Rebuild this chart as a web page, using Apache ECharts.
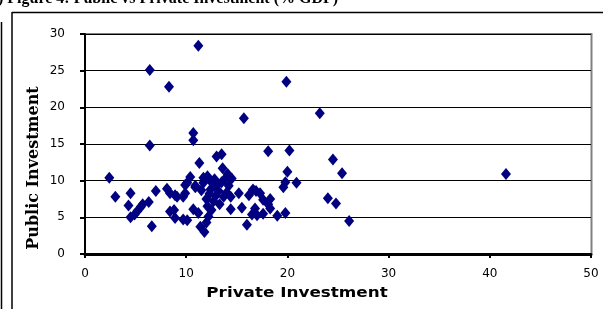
<!DOCTYPE html>
<html>
<head>
<meta charset="utf-8">
<script src="https://cdn.jsdelivr.net/npm/echarts@6/dist/echarts.min.js"></script>
<style>
  html, body { margin: 0; padding: 0; background: #fff; overflow: hidden; }
  .wrap { position: relative; width: 603px; height: 309px; }
  #chart { width: 603px; height: 309px; }
  .txt { position: absolute; color: #000; white-space: nowrap; pointer-events: none; font-weight: bold; }
  .title { left: -2px; top: -10px; font: bold 16px/16px "Liberation Serif"; }
  .yname { left: -67px; top: 158px; width: 200px; height: 20px; line-height: 20px; text-align: center;
           font-family: "DejaVu Serif"; font-size: 16px; transform: rotate(-90deg); }
  .xname { left: 297px; top: 292px; font-family: "DejaVu Sans"; font-size: 14px; line-height: 16px;
           transform: translate(-50%, -50%) scaleX(1.2); }
</style>
</head>
<body>
<div class="wrap">
  <div id="chart"></div>
  <div class="txt title">) Figure 4: Public vs Private Investment (% GDP)</div>
  <div class="txt yname">Public Investment</div>
  <div class="txt xname">Private Investment</div>
</div>
<script>
// 私人投资 (x) 与 公共投资 (y)，% GDP
const privateInv = [
  2.4, 3.0, 4.5, 4.3, 4.5, 4.9, 5.2, 5.5, 5.7, 6.3,
  6.4, 6.6, 6.4, 7.0, 8.1, 8.3, 8.4, 8.9, 9.7, 8.4,
  8.9, 9.7, 9.9, 10.4, 10.9, 10.7, 11.2, 11.3, 11.7, 11.4,
  11.8, 11.2, 10.7, 10.7, 13.0, 13.5, 13.6, 14.1, 14.5, 15.2,
  14.4, 15.5, 16.0, 15.7, 16.6, 17.3, 17.6, 18.1, 18.3, 17.6,
  17.0, 16.5, 16.8, 18.1, 19.0, 19.8, 19.6, 19.8, 20.0, 20.9,
  20.2, 19.9, 23.2, 24.5, 25.4, 24.0, 24.8, 26.1, 41.6, 12.1,
  11.7, 12.4, 13.0, 13.7, 12.7, 12.1, 12.2, 12.0, 10.1, 10.9,
  9.1, 9.9, 8.8, 10.1, 12.8, 12.5, 13.2, 12.3, 13.5, 12.9,
  14.0, 14.4, 13.3, 12.5, 14.2, 11.5, 12.0, 13.8, 16.2, 16.9,
  18.3
]
const publicInv = [
  10.4, 7.8, 8.3, 6.6, 5.0, 5.4, 5.9, 6.4, 6.8, 7.1,
  14.8, 3.8, 25.1, 8.6, 8.9, 22.8, 8.3, 8.0, 7.8, 5.8,
  4.9, 4.7, 9.4, 10.5, 9.1, 6.1, 5.6, 12.4, 10.4, 3.7,
  3.0, 28.4, 16.5, 15.5, 13.3, 13.6, 11.7, 10.9, 10.3, 8.3,
  6.1, 6.3, 4.0, 18.5, 8.8, 8.3, 7.4, 6.8, 6.2, 5.5,
  5.3, 5.4, 6.2, 14.0, 5.2, 5.6, 9.1, 9.8, 11.2, 9.7,
  14.1, 23.5, 19.2, 12.9, 11.0, 7.6, 6.9, 4.5, 10.9, 10.6,
  9.7, 8.8, 9.3, 7.8, 7.2, 6.5, 5.1, 4.3, 9.7, 9.3,
  7.8, 8.3, 6.0, 4.6, 10.2, 9.8, 8.6, 8.2, 9.8, 7.9,
  8.4, 7.8, 6.8, 6.0, 9.3, 8.7, 7.5, 10.2, 8.0, 8.6,
  7.5
]
const xTicks = [0, 10, 20, 30, 40, 50]
const yTicks = [0, 5, 10, 15, 20, 25, 30]

const points = privateInv.map((v, i) => [v, publicInv[i]])

const chart = echarts.init(document.getElementById('chart'))

const option = {
  animation: false,
  grid: {
    left: 85,
    right: 12,
    top: 34,
    bottom: 55
  },
  xAxis: {
    type: 'value',
    min: xTicks[0],
    max: xTicks[xTicks.length - 1],
    interval: 10,
    axisLine: { show: true, lineStyle: { color: '#000', width: 3 } },
    axisTick: { show: true, length: 4, lineStyle: { color: '#000', width: 2 } },
    axisLabel: { margin: 14, color: '#000', fontFamily: 'DejaVu Sans', fontSize: 12 },
    splitLine: { show: false }
  },
  yAxis: {
    type: 'value',
    min: yTicks[0],
    max: yTicks[yTicks.length - 1],
    interval: 5,
    axisLine: { show: true, lineStyle: { color: '#000', width: 2 } },
    axisTick: { show: true, length: 5, lineStyle: { color: '#000', width: 2 } },
    axisLabel: { margin: 20, color: '#000', fontFamily: 'DejaVu Sans', fontSize: 12 },
    splitLine: { show: true, lineStyle: { color: '#000', width: 1 } }
  },
  graphic: [
    // 外框
    { type: 'line', shape: { x1: 12, y1: 12.5, x2: 603, y2: 12.5 }, style: { stroke: '#000', lineWidth: 1.5 } },
    { type: 'line', shape: { x1: 12, y1: 12, x2: 12, y2: 309 }, style: { stroke: '#000', lineWidth: 1.5 } },
    { type: 'line', shape: { x1: 1.5, y1: 22, x2: 1.5, y2: 309 }, style: { stroke: '#000', lineWidth: 1.5 } },
    // 绘图区灰色边框（上、右）
    { type: 'line', shape: { x1: 85, y1: 34, x2: 592, y2: 34 }, style: { stroke: '#808080', lineWidth: 2 } },
    { type: 'line', shape: { x1: 591.5, y1: 33, x2: 591.5, y2: 254 }, style: { stroke: '#808080', lineWidth: 2 } }
  ],
  series: [
    {
      type: 'scatter',
      data: points,
      symbol: 'diamond',
      symbolSize: [10, 12],
      itemStyle: { color: '#000080', opacity: 1 }
    }
  ]
}
chart.setOption(option)
window.addEventListener('resize', () => {
  chart.resize()
})
</script>
</body>
</html>
